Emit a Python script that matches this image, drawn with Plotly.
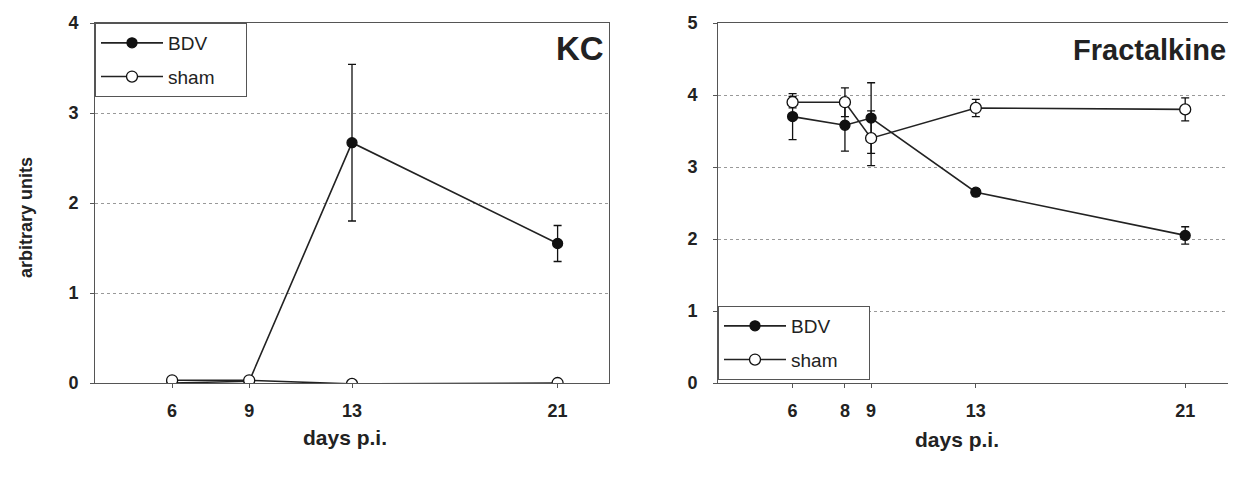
import plotly.graph_objects as go
from plotly.subplots import make_subplots

# ---- data ----
kc_days = [6, 9, 13, 21]
kc_bdv = [0.0, 0.02, 2.67, 1.55]
kc_bdv_err = [0.0, 0.0, 0.87, 0.2]
kc_sham = [0.03, 0.03, -0.01, 0.0]
kc_sham_err = [0.0, 0.0, 0.0, 0.0]

fr_days = [6, 8, 9, 13, 21]
fr_bdv = [3.70, 3.58, 3.68, 2.65, 2.05]
fr_bdv_err = [0.32, 0.36, 0.49, 0.05, 0.12]
fr_sham = [3.90, 3.90, 3.40, 3.82, 3.80]
fr_sham_err = [0.08, 0.20, 0.38, 0.12, 0.16]

kc_ticks = [6, 9, 13, 21]
fr_ticks = [6, 8, 9, 13, 21]

FONT = "Liberation Sans, Arial, sans-serif"
OFF = 8  # default page body margin
W, H = 1236 - OFF, 477 - OFF
# target screen coords -> figure coords
LEFT, RIGHT, TOP, BOTTOM = 95 - OFF, 1231 - OFF, 23 - OFF, 383 - OFF
ML, MR, MT, MB = LEFT, W - RIGHT, TOP, H - BOTTOM
PW = W - ML - MR
PH = H - MT - MB

fig = make_subplots(rows=1, cols=2)

PAD = "\u00a0" * 5  # right padding inside legend box

def add_series(x, y, err, name, filled, col, legend):
    fig.add_trace(go.Scatter(
        x=x, y=y, name=name + PAD, mode="lines+markers",
        legendgroup=name + legend,
        line=dict(color="#222222", width=1.6),
        marker=dict(size=11 if not filled else 10,
                    color="#111111" if filled else "white",
                    line=dict(color="#111111", width=1.3)),
        error_y=dict(type="data", array=err, visible=True,
                     color="#111111", thickness=1.3, width=4),
        legend=legend,
    ), row=1, col=col)

add_series(kc_days, kc_bdv, kc_bdv_err, "BDV", True, 1, "legend")
add_series(kc_days, kc_sham, kc_sham_err, "sham", False, 1, "legend")
add_series(fr_days, fr_bdv, fr_bdv_err, "BDV", True, 2, "legend2")
add_series(fr_days, fr_sham, fr_sham_err, "sham", False, 2, "legend2")

def px(xs):  # screen x -> paper fraction
    return (xs - OFF - ML) / PW

def py(ys):  # screen y -> paper fraction
    return (BOTTOM - (ys - OFF)) / PH

x1 = [0, px(609)]
x2 = [px(718), 1.0]

axis_common = dict(
    showline=True, linecolor="#555555", linewidth=1, mirror=True,
    ticks="outside", ticklen=4, tickcolor="#555555",
    tickfont=dict(family=FONT, size=18, color="#222222"),
    zeroline=False, automargin=False,
)

fig.update_xaxes(domain=x1, range=[3.0, 23.0], tickvals=kc_ticks,
                 ticktext=[f"<b>{t}</b>" for t in kc_ticks], showgrid=False,
                 ticklabelstandoff=7, row=1, col=1, **axis_common)
fig.update_xaxes(domain=x2, range=[3.15, 22.75], tickvals=fr_ticks,
                 ticktext=[f"<b>{t}</b>" for t in fr_ticks], showgrid=False,
                 ticklabelstandoff=7, row=1, col=2, **axis_common)

grid = dict(showgrid=True, gridcolor="#999999", griddash="dot", gridwidth=1)
fig.update_yaxes(domain=[0, 1], range=[0, 4], tickvals=[0, 1, 2, 3, 4],
                 ticktext=[f"<b>{t}</b>" for t in [0, 1, 2, 3, 4]],
                 ticklabelstandoff=8, row=1, col=1, **axis_common, **grid)
fig.update_yaxes(domain=[0, 1], range=[0, 5], tickvals=[0, 1, 2, 3, 4, 5],
                 ticktext=[f"<b>{t}</b>" for t in [0, 1, 2, 3, 4, 5]],
                 ticklabelstandoff=12, row=1, col=2, **axis_common, **grid)

legend_common = dict(
    bgcolor="white", bordercolor="#555555", borderwidth=1,
    font=dict(family=FONT, size=19, color="#222222"),
    xanchor="left", itemwidth=62, tracegroupgap=6,
)
title_font = dict(family=FONT, size=21, color="#222222")
fig.update_layout(
    width=W, height=H,
    margin=dict(l=ML, r=MR, t=MT, b=MB),
    paper_bgcolor="white", plot_bgcolor="white",
    showlegend=True,
    legend=dict(x=x1[0], y=1, yanchor="top", **legend_common),
    legend2=dict(x=x2[0], y=py(380), yanchor="bottom", **legend_common),
    annotations=[
        dict(text="<b>KC</b>", x=px(606), y=py(28), xref="paper", yref="paper",
             xanchor="right", yanchor="top", showarrow=False,
             font=dict(family=FONT, size=33, color="#222222")),
        dict(text="<b>Fractalkine</b>", x=px(1228), y=py(32), xref="paper", yref="paper",
             xanchor="right", yanchor="top", showarrow=False,
             font=dict(family=FONT, size=29, color="#222222")),
        dict(text="<b>days p.i.</b>", x=px(345), y=py(438), xref="paper", yref="paper",
             xanchor="center", yanchor="middle", showarrow=False, font=title_font),
        dict(text="<b>days p.i.</b>", x=px(957), y=py(440), xref="paper", yref="paper",
             xanchor="center", yanchor="middle", showarrow=False, font=title_font),
        dict(text="<b>arbitrary units</b>", x=px(26), y=py(218), xref="paper", yref="paper",
             xanchor="center", yanchor="middle", showarrow=False, textangle=-90,
             font=dict(family=FONT, size=18, color="#222222")),
    ],
)

fig.write_html("out.html")
